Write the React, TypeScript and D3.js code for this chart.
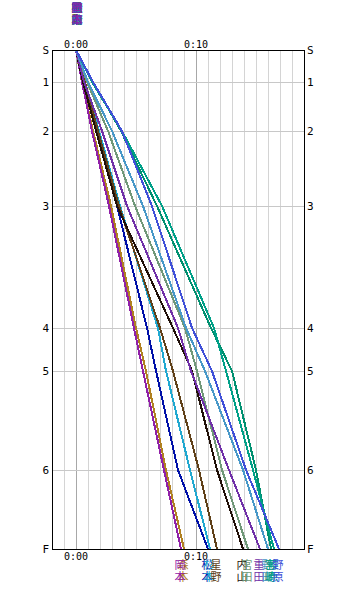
import React from "react";
import * as d3 from "d3";

const controlLabels = ["S", "1", "2", "3", "4", "5", "6", "F"];
const controlDist = [0, 32, 81, 156, 278, 321, 420, 499];
const timeTicks = [0, 10];
const timeTickLabels = ["0:00", "0:10"];

const runnerNames = ["森本", "岡本", "松本", "杉本", "星野", "内山", "宮田", "重田", "野田", "宮崎", "篠原", "野原"];
const runnerColors = ["#b08020", "#9020a8", "#0010a8", "#20a8d0", "#604018", "#201008", "#709878", "#7030a8", "#4898c8", "#009070", "#00a088", "#4050d8"];
// cumulative times (minutes) at controls 1..6, F
const splitsMoriMoto = [0.5, 1.42, 2.92, 5.0, 5.83, 7.5, 9.0];
const splitsOkamoto = [0.5, 1.33, 2.75, 4.83, 5.58, 7.33, 8.75];
const splitsMatsumoto = [0.67, 1.75, 3.42, 5.92, 6.67, 8.5, 11.0];
const splitsSugimoto = [0.75, 1.92, 3.67, 6.83, 7.5, 9.5, 11.17];
const splitsHoshino = [0.75, 1.83, 3.58, 7.0, 8.08, 10.25, 11.75];
const splitsUchiyama = [0.58, 1.67, 3.42, 8.08, 9.67, 11.75, 13.92];
const splitsMiyata = [0.92, 2.67, 4.92, 9.08, 10.08, 12.17, 14.33];
const splitsShigeta = [0.67, 2.17, 4.25, 8.5, 9.58, 12.75, 15.33];
const splitsNoda = [1.0, 3.0, 5.58, 9.17, 10.75, 13.92, 16.0];
const splitsMiyazaki = [1.42, 3.75, 6.75, 11.25, 13.0, 15.0, 16.25];
const splitsShinohara = [1.33, 3.83, 7.17, 11.5, 12.5, 14.75, 16.5];
const splitsNohara = [1.42, 3.83, 6.33, 9.67, 11.33, 14.17, 16.92];
const runnerSplits = [splitsMoriMoto, splitsOkamoto, splitsMatsumoto, splitsSugimoto, splitsHoshino, splitsUchiyama, splitsMiyata, splitsShigeta, splitsNoda, splitsMiyazaki, splitsShinohara, splitsNohara];
const startLabelOrder = [0, 2, 3, 4, 5, 6, 8, 9, 10, 11, 7, 1];

const W = 356;
const H = 600;
const left = 52, right = 304, top = 50, bottom = 549;

export default function App() {
  const x = d3.scaleLinear().domain([-2, 19]).range([left, right]);
  const y = d3.scaleLinear().domain([0, controlDist[controlDist.length - 1]]).range([top, bottom]);
  const minutes = d3.range(-1, 19);
  const line = d3.line<[number, number]>().x((d) => x(d[0])).y((d) => y(d[1]));
  const mono = "'DejaVu Sans Mono', monospace";
  const cjk = "'Noto Sans CJK JP', sans-serif";

  return (
    <svg width={W} height={H} style={{ position: "absolute", left: 0, top: 0, background: "#fff" }}>
      <rect x={0} y={0} width={W} height={H} fill="#fff" />
      {minutes.map((m) => (
        <line key={"v" + m} x1={x(m) + 0.5} x2={x(m) + 0.5} y1={top} y2={bottom} stroke={m % 10 === 0 ? "#a8a8a8" : "#d4d4d4"} strokeWidth={1} />
      ))}
      {controlDist.slice(1, -1).map((d, i) => (
        <line key={"h" + i} x1={left} x2={right} y1={Math.round(y(d)) + 0.5} y2={Math.round(y(d)) + 0.5} stroke="#c8c8c8" strokeWidth={1} />
      ))}
      {runnerSplits.map((s, i) => {
        const pts: [number, number][] = [[0, 0], ...s.map((t, k) => [t, controlDist[k + 1]] as [number, number])];
        return <path key={"r" + i} d={line(pts) || ""} fill="none" stroke={runnerColors[i]} strokeWidth={2} shapeRendering="crispEdges" />;
      })}
      <rect x={left + 0.5} y={top + 0.5} width={right - left} height={bottom - top} fill="none" stroke="#000" strokeWidth={1} />
      {timeTicks.map((t, i) => (
        <g key={"t" + i} fontFamily={mono} fontSize={10} textAnchor="middle" fill="#000">
          <text x={x(t)} y={top - 2}>{timeTickLabels[i]}</text>
          <text x={x(t)} y={bottom + 11}>{timeTickLabels[i]}</text>
        </g>
      ))}
      {controlDist.map((d, i) => (
        <g key={"c" + i} fontFamily={mono} fontSize={11} fill="#000">
          <text x={left - 3} y={y(d) + 4} textAnchor="end">{controlLabels[i]}</text>
          <text x={right + 3} y={y(d) + 4} textAnchor="start">{controlLabels[i]}</text>
        </g>
      ))}
      {startLabelOrder.map((i) => (
        <g key={"ns" + i} fontFamily={cjk} fontSize={11} fill={runnerColors[i]} textAnchor="middle">
          {runnerNames[i].split("").map((ch, k) => (
            <text key={k} x={x(0) + 1} y={12 + k * 12}>{ch}</text>
          ))}
        </g>
      ))}
      {runnerNames.map((n, i) => {
        const s = runnerSplits[i];
        const fx = x(s[s.length - 1]) - 1;
        return (
          <g key={"nf" + i} fontFamily={cjk} fontSize={11} fill={runnerColors[i]} textAnchor="middle">
            {n.split("").map((ch, k) => (
              <text key={k} x={fx} y={569 + k * 12}>{ch}</text>
            ))}
          </g>
        );
      })}
    </svg>
  );
}
